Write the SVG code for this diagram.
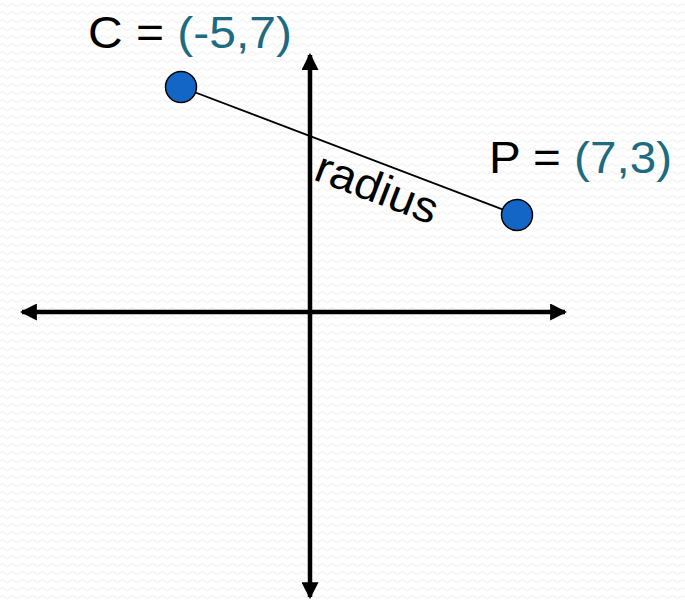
<svg xmlns="http://www.w3.org/2000/svg" width="685" height="600" viewBox="0 0 685 600">
  <defs>
    <pattern id="bg" width="10" height="8" patternUnits="userSpaceOnUse">
      <rect width="10" height="8" fill="#ffffff"/>
      <path d="M0 5 Q2.5 2 5 5 T10 5" fill="none" stroke="#ededed" stroke-width="1"/>
    </pattern>
    <marker id="ah" viewBox="0 0 16 16" refX="14" refY="8" markerWidth="17" markerHeight="17" markerUnits="userSpaceOnUse" orient="auto-start-reverse">
      <path d="M0 0 L16 8 L0 16 Z" fill="#000"/>
    </marker>
    <style>
      .axis { stroke: #000; stroke-width: 4.5; fill: none; }
      .pt { fill: #1466c6; stroke: #000; stroke-width: 1.5; }
      .lbl { font-family: "Liberation Sans", Arial, sans-serif; font-size: 44px; fill: #000; }
      .coord { fill: #1d6b80; }
      .edge { stroke: #000; stroke-width: 1.8; fill: none; }
    </style>
  </defs>
  <rect width="685" height="600" fill="url(#bg)"/>

  <g id="axes">
    <line class="axis" x1="22" y1="312" x2="565" y2="312" marker-start="url(#ah)" marker-end="url(#ah)"/>
    <line class="axis" x1="310" y1="55" x2="310" y2="597" marker-start="url(#ah)" marker-end="url(#ah)"/>
  </g>

  <g id="connectors">
    <line class="edge" x1="181" y1="87" x2="517" y2="215"/>
    <text class="lbl" transform="translate(312,179) rotate(21)" textLength="128" lengthAdjust="spacingAndGlyphs">radius</text>
  </g>

  <g id="node-C">
    <circle class="pt" cx="181" cy="87" r="15.5"/>
    <text class="lbl" x="88" y="48" textLength="204" lengthAdjust="spacingAndGlyphs">C = <tspan class="coord">(-5,7)</tspan></text>
  </g>

  <g id="node-P">
    <circle class="pt" cx="517" cy="215" r="15.5"/>
    <text class="lbl" x="489" y="173" textLength="183" lengthAdjust="spacingAndGlyphs">P = <tspan class="coord">(7,3)</tspan></text>
  </g>
</svg>
